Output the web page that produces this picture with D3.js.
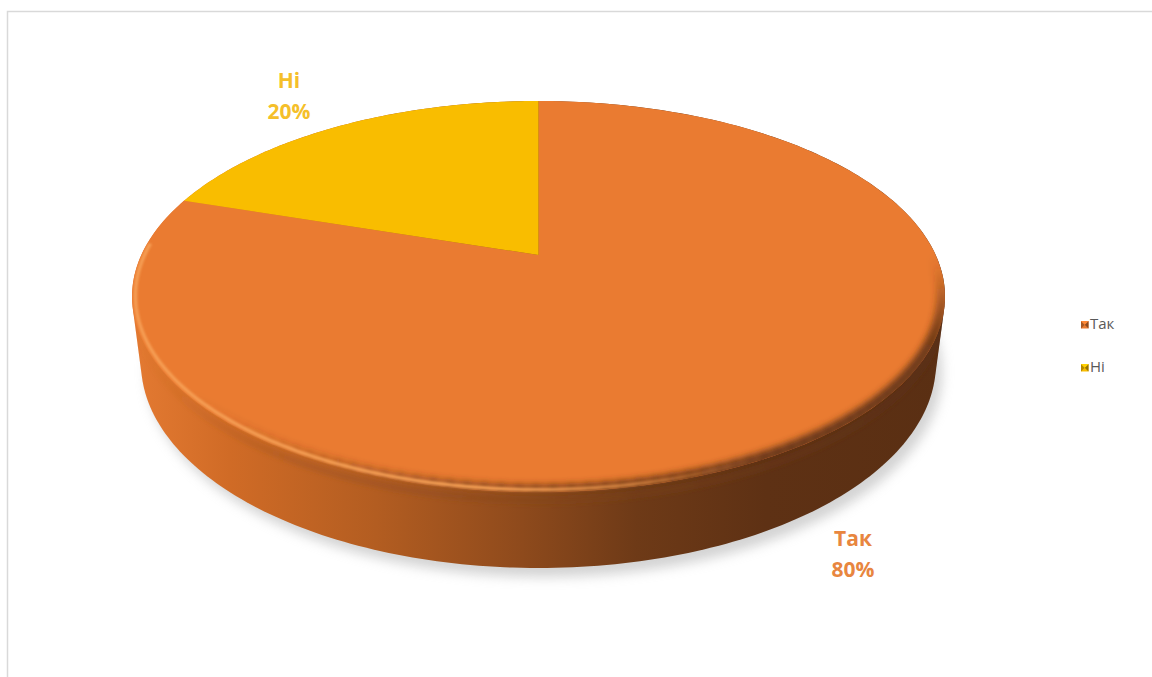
<!DOCTYPE html>
<html>
<head>
<meta charset="utf-8">
<script src="https://cdn.jsdelivr.net/npm/d3@7"></script>
<style>
  html, body { margin: 0; padding: 0; background: #ffffff; }
  svg { display: block; }
</style>
</head>
<body>
<svg id="chart" width="1152" height="677"></svg>
<script>
// ---- data ----
const categories = ["Так", "Ні"];
const values = [80, 20];
const percentLabels = ["80%", "20%"];

// ---- styling ----
const topColors = ["#EA7B31", "#F9BD00"];
const labelColors = ["#E8863F", "#F5BF2A"];
const legendText = "#595959";

const W = 1152, H = 677;
const svg = d3.select("#chart");
const defs = svg.append("defs");

// ---- 3D disc projection (unit radius disc seen from above with perspective) ----
const cam = {
  cx: 538.5, cy: 255,
  phi: Math.asin(0.47),   // elevation
  D: 4.158,               // camera distance (in radii)
  f: 1651.6,              // focal length (px)
  T: 0.19                 // thickness (in radii)
};
function proj(theta, h, r) {
  // theta: clockwise from the far side (d3 pie convention), h: height, r: radius
  const x3 = r * Math.sin(theta);
  const z3 = -r * Math.cos(theta);
  const cp = Math.cos(cam.phi), sp = Math.sin(cam.phi);
  const v = h * cp - z3 * sp;
  const d = cam.D - (z3 * cp + h * sp);
  const s = cam.f / d;
  return [cam.cx + x3 * s, cam.cy - v * s];
}
function rimPoints(a0, a1, h, r, n) {
  const pts = [];
  for (let i = 0; i <= n; i++) {
    const a = a0 + (a1 - a0) * i / n;
    pts.push(proj(a, h, r));
  }
  return pts;
}
const line = d3.line().curve(d3.curveLinear);
const deg = Math.PI / 180;

const arcs = d3.pie().sort(null).value(d => d)(values);

// ---- chart frame ----
svg.append("rect")
  .attr("x", 7.5).attr("y", 11.5)
  .attr("width", W + 20).attr("height", H + 20)
  .attr("fill", "#ffffff")
  .attr("stroke", "#D9D9D9").attr("stroke-width", 1.5);

// ---- filters & gradients ----
function blurFilter(id, sd) {
  defs.append("filter").attr("id", id)
    .attr("x", "-20%").attr("y", "-20%").attr("width", "140%").attr("height", "140%")
    .append("feGaussianBlur").attr("stdDeviation", sd);
}
blurFilter("shadowBlur", 6);
blurFilter("hiBlur", 1.3);
blurFilter("darkBlur", 3.2);
blurFilter("edgeBlur", 2.2);

function hGrad(id, stops) {
  const g = defs.append("linearGradient").attr("id", id)
    .attr("gradientUnits", "userSpaceOnUse")
    .attr("x1", 132).attr("y1", 0).attr("x2", 945).attr("y2", 0);
  stops.forEach(([o, c, a]) => g.append("stop").attr("offset", o)
    .attr("stop-color", c).attr("stop-opacity", a === undefined ? 1 : a));
}
hGrad("sideGrad", [
  [0, "#E47A32"], [0.12, "#D06B26"], [0.3, "#B35D21"], [0.48, "#8E4A1C"],
  [0.62, "#6E3A17"], [0.78, "#5E3114"], [1, "#5A2F13"]
]);
// thin highlight on the rounded rim, fading towards the dark side
hGrad("hiGrad", [
  [0, "#F7A157", 0.9], [0.45, "#F6A055", 0.95], [0.62, "#F39A50", 0.6], [0.78, "#F08A40", 0]
]);
// soft shade on the wall just below the rim
hGrad("edgeGrad", [
  [0, "#B45E22", 0.0], [0.2, "#A35620", 0.45], [0.6, "#7A401A", 0.5], [1, "#5A2F13", 0.4]
]);

// ---- geometry ----
const N = 360;
const topRim = rimPoints(0, 2 * Math.PI, 0, 1, N);
const botRim = rimPoints(0, 2 * Math.PI, -cam.T, 1, N);
const hull = d3.polygonHull(topRim.concat(botRim));

// soft shadow under the disc
svg.append("path")
  .attr("d", line(botRim.map(p => [p[0] + 6, p[1] + 9])) + "Z")
  .attr("fill", "#A8A8A8").attr("opacity", 0.5)
  .attr("filter", "url(#shadowBlur)");

// outer wall
svg.append("path")
  .attr("d", line(hull) + "Z")
  .attr("fill", "url(#sideGrad)");

const clip = defs.append("clipPath").attr("id", "discClip");
clip.append("path").attr("d", line(hull) + "Z");
const topPath = d => {
  const pts = [proj(0, 0, 0)].concat(rimPoints(d.startAngle, d.endAngle, 0, 1, 120));
  return line(pts) + "Z";
};
const topClip = defs.append("clipPath").attr("id", "topClip");
topClip.append("path").attr("d", line(topRim) + "Z");

// shade on the wall right under the rim
svg.append("g").attr("clip-path", "url(#discClip)")
  .append("path")
  .attr("d", line(rimPoints(Math.PI * 0.5, Math.PI * 1.55, -0.02, 1.0, 200)))
  .attr("fill", "none")
  .attr("stroke", "url(#edgeGrad)")
  .attr("stroke-width", 8)
  .attr("filter", "url(#edgeBlur)");

// top faces of the slices
svg.append("g").selectAll("path")
  .data(arcs)
  .join("path")
  .attr("d", topPath)
  .attr("fill", (d, i) => topColors[i]);

// rounded rim: darkening on the right-hand side, fading in and out along the arc
const smooth = (e0, e1, x) => { const t = Math.max(0, Math.min(1, (x - e0) / (e1 - e0))); return t * t * (3 - 2 * t); };
const darkSegs = d3.range(88, 236, 2).map(a => ({
  a0: a * deg, a1: (a + 2.6) * deg,
  op: 0.85 * smooth(88, 118, a) * (1 - smooth(150, 232, a))
}));
svg.append("g").attr("clip-path", "url(#topClip)")
  .append("g").attr("filter", "url(#darkBlur)")
  .selectAll("path")
  .data(darkSegs)
  .join("path")
  .attr("d", s => line(rimPoints(s.a0, s.a1, 0, 0.994, 4)))
  .attr("fill", "none")
  .attr("stroke", "#5E3114")
  .attr("stroke-opacity", s => s.op)
  .attr("stroke-width", 12);

// thin highlight along the near edge
svg.append("g").attr("clip-path", "url(#discClip)")
  .append("path")
  .attr("d", line(rimPoints(Math.PI * 0.6, Math.PI * 1.52, 0, 0.992, 200)))
  .attr("fill", "none")
  .attr("stroke", "url(#hiGrad)")
  .attr("stroke-width", 3.5)
  .attr("filter", "url(#hiBlur)");

// ---- data labels ----
const labelLayout = [
  { x: 853, y: 546 },
  { x: 289, y: 88 }
];
const lab = svg.append("g").selectAll("text")
  .data(arcs)
  .join("text")
  .attr("x", (d, i) => labelLayout[i].x)
  .attr("y", (d, i) => labelLayout[i].y)
  .attr("text-anchor", "middle")
  .attr("font-family", "'Open Sans', 'DejaVu Sans', sans-serif")
  .attr("font-weight", 700)
  .attr("font-size", 21)
  .attr("fill", (d, i) => labelColors[i]);
lab.append("tspan").attr("x", (d, i) => labelLayout[i].x).text((d, i) => categories[i]);
lab.append("tspan").attr("x", (d, i) => labelLayout[i].x).attr("dy", 31).text((d, i) => percentLabels[i]);

// ---- legend ----
const legend = svg.append("g").attr("transform", "translate(1081,321)");
const item = legend.selectAll("g")
  .data(categories)
  .join("g")
  .attr("transform", (d, i) => `translate(0,${i * 43})`);
const mk = 7.5;
const shade = (c, k) => d3.color(c).darker(k).formatHex();
item.append("rect").attr("width", mk).attr("height", mk).attr("fill", (d, i) => topColors[i]);
item.append("path").attr("d", `M0,0L${mk / 2},${mk / 2}L0,${mk}Z`).attr("fill", (d, i) => shade(topColors[i], 0.9));
item.append("path").attr("d", `M${mk},0L${mk / 2},${mk / 2}L${mk},${mk}Z`).attr("fill", (d, i) => shade(topColors[i], 1.4));
item.append("path").attr("d", `M0,0L${mk / 2},${mk / 2}L${mk},0Z`).attr("fill", (d, i) => d3.color(topColors[i]).brighter(0.3).formatHex());
item.append("text")
  .attr("x", 9).attr("y", 8)
  .attr("font-family", "'Open Sans', 'DejaVu Sans', sans-serif")
  .attr("font-size", 15)
  .attr("fill", legendText)
  .text(d => d);
</script>
</body>
</html>
